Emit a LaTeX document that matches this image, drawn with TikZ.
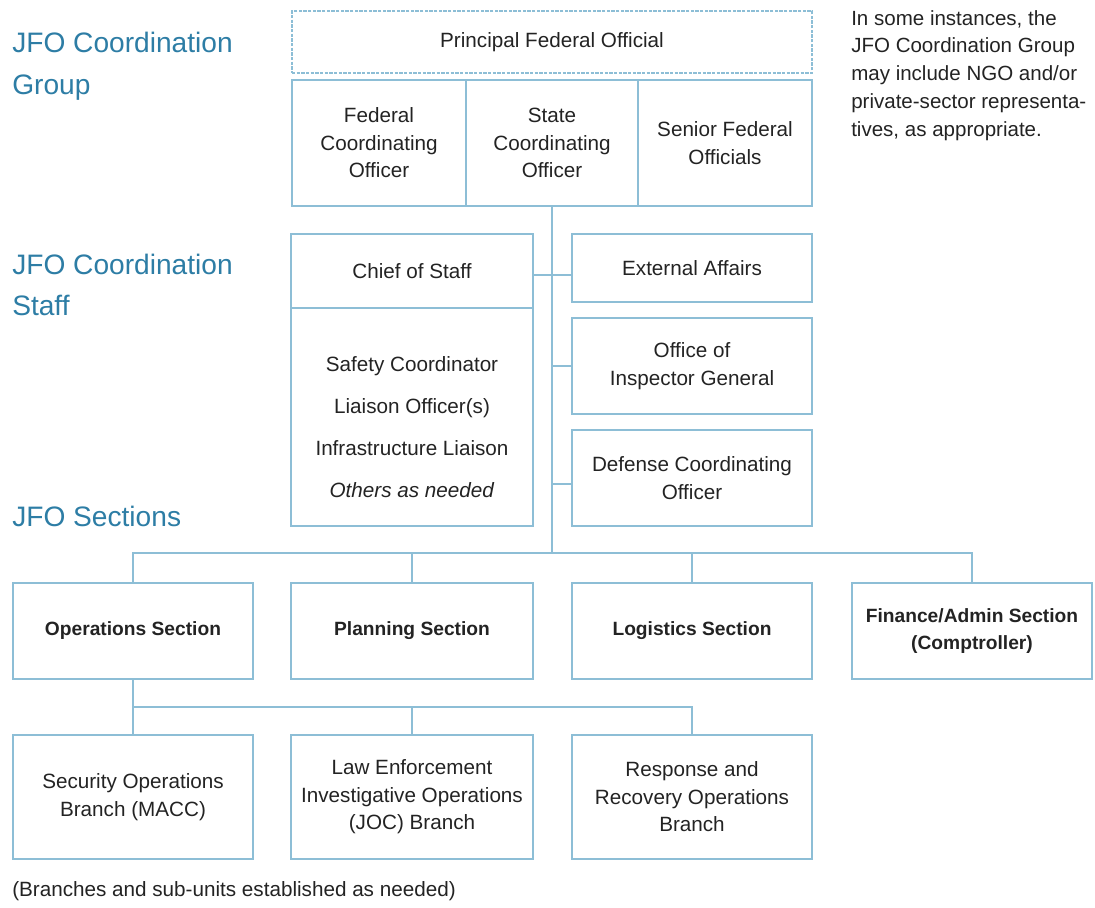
\documentclass[tikz,border=0pt]{standalone}
\usepackage{fontspec}
\setmainfont{Liberation Sans}

\definecolor{frame}{RGB}{141,190,214}
\definecolor{headblue}{RGB}{45,125,165}
\definecolor{ink}{RGB}{35,35,35}

\newcommand\chartbody{\fontsize{15.5}{20.6}\selectfont}
\newcommand\chartbold{\fontsize{14.4}{20.6}\selectfont\bfseries}
\newcommand\chartlist{\fontsize{15.5}{31.5}\selectfont}
\newcommand\chartnote{\fontsize{15.4}{20.8}\selectfont}
\newcommand\charthead{\fontsize{21.1}{31.5}\selectfont}

\begin{document}
\begin{tikzpicture}[x=0.75pt,y=-0.75pt,
  wh/.style 2 args={minimum width=#1*0.75pt, minimum height=#2*0.75pt},
  box/.style={draw=frame, line width=1pt, rectangle, inner sep=0pt,
              align=center, text=ink, font=\chartbody},
  boldbox/.style={box, font=\chartbold},
  link/.style={draw=frame, line width=1pt},
  heading/.style={anchor=base west, inner sep=0pt, text=headblue, font=\charthead},
  plain/.style={inner sep=0pt, text=ink, font=\chartbody}]

\useasboundingbox (0,0) rectangle (1095,907);

% headings on the left
\node[heading] (hg1) at (12,52) {JFO Coordination};
\node[heading] (hg2) at (12,94) {Group};
\node[heading] (hs1) at (12,274) {JFO Coordination};
\node[heading] (hs2) at (12,315) {Staff};
\node[heading] (hsec) at (12,526) {JFO Sections};

% side note
\node[plain, anchor=north west, align=left, font=\chartnote] (note) at (851,10)
  {In some instances, the\\JFO Coordination Group\\may include NGO and/or\\private-sector representa-\\tives, as appropriate.};

% coordination group
\node[box, wh={520}{62}, dash pattern=on 2.5pt off 1pt] (pfo) at (552,42) {Principal Federal Official};
\node[box, wh={174}{126}] (fco) at (379,143) {Federal\\Coordinating\\Officer};
\node[box, wh={172}{126}] (sco) at (552,143) {State\\Coordinating\\Officer};
\node[box, wh={174}{126}] (sfo) at (725,143) {Senior Federal\\Officials};

% coordination staff
\node[box, wh={242}{74}] (cos) at (412,271) {Chief of Staff};
\node[box, wh={242}{218}] (stf) at (412,417) {};
\node[plain, align=center, font=\chartlist] (stftext) at (412,427)
  {Safety Coordinator\\Liaison Officer(s)\\Infrastructure Liaison\\\textit{Others as needed}};
\node[box, wh={240}{68}] (ext) at (692,268) {External Affairs};
\node[box, wh={240}{96}] (oig) at (692,366) {Office of\\Inspector General};
\node[box, wh={240}{96}] (dco) at (692,478) {Defense Coordinating\\Officer};

% sections
\node[boldbox, wh={240}{96}] (ops) at (133,631) {Operations Section};
\node[boldbox, wh={242}{96}] (pln) at (412,631) {Planning Section};
\node[boldbox, wh={240}{96}] (lgs) at (692,631) {Logistics Section};
\node[boldbox, wh={240}{96}] (fin) at (972,631) {Finance/Admin Section\\(Comptroller)};

% branches
\node[box, wh={240}{124}] (sob) at (133,797) {Security Operations\\Branch (MACC)};
\node[box, wh={242}{124}] (lea) at (412,797) {Law Enforcement\\Investigative Operations\\(JOC) Branch};
\node[box, wh={240}{124}] (rro) at (692,797) {Response and\\Recovery Operations\\Branch};

\node[plain, anchor=base west] (foot) at (12,896) {(Branches and sub-units established as needed)};

% connectors
\coordinate (hub) at (552,553);
\coordinate (jcos) at (552,275);
\coordinate (jdco) at (552,484);
\coordinate (obus) at (133,707);

\draw[link] (sco.south) -- (hub);
\draw[link] (cos.east |- jcos) -- (ext.west |- jcos);
\draw[link] (hub |- oig.west) -- (oig.west);
\draw[link] (jdco) -- (dco.west |- jdco);

\draw[link] (ops.north) -- (ops.north |- hub) -- (fin.north |- hub) -- (fin.north);
\draw[link] (pln.north |- hub) -- (pln.north);
\draw[link] (lgs.north |- hub) -- (lgs.north);

\draw[link] (ops.south) -- (sob.north);
\draw[link] (obus) -- (rro.north |- obus) -- (rro.north);
\draw[link] (lea.north |- obus) -- (lea.north);
\end{tikzpicture}
\end{document}
